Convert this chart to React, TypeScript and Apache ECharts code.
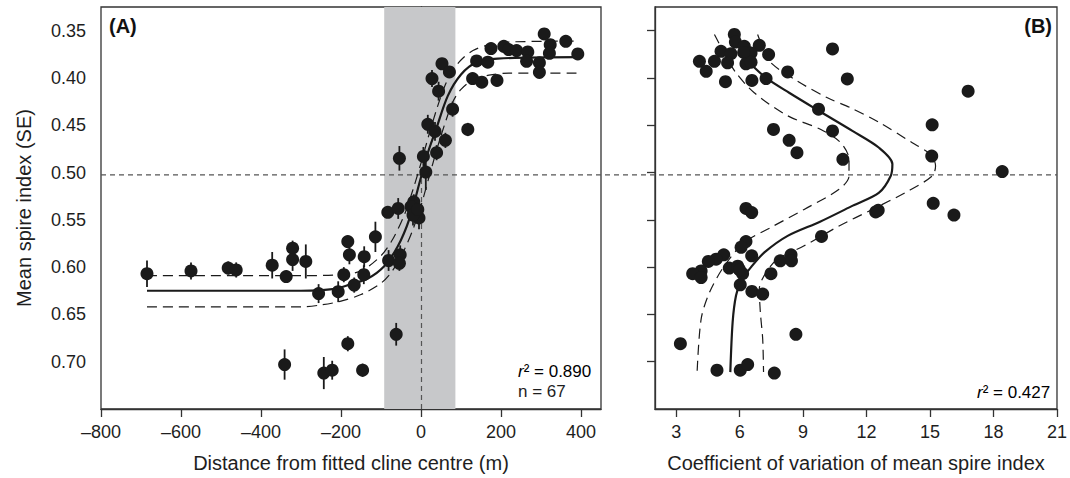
import React, { useEffect, useRef } from 'react';
import * as echarts from 'echarts';

// ---------- Panel A: mean spire index vs distance ----------
const leftX = [-685, -575, -482, -462, -372, -337, -321, -321, -288, -256, -207, -193, -341, -243, -222,
  -183, -179, -183, -114, -142, -143, -167, -81, -52, -54, -62, -146, -83, -57, -18, -15, -10, -25, -5,
  -54, 6, 12, 39, 61, 17, 35, 79, 117, 44, 27.5, 52.5, 71, 129, 152, 190, 139, 167, 175, 207, 219, 239,
  267, 264, 296, 296, 308, 323, 321, 362, 392, -20, -8];
const leftY = [0.607, 0.604, 0.601, 0.603, 0.598, 0.610, 0.580, 0.592, 0.594, 0.628, 0.626, 0.608, 0.703,
  0.712, 0.709, 0.573, 0.587, 0.681, 0.568, 0.589, 0.608, 0.619, 0.593, 0.587, 0.596, 0.671, 0.709, 0.542,
  0.538, 0.531, 0.542, 0.540, 0.536, 0.548, 0.485, 0.483, 0.4995, 0.479, 0.466, 0.449, 0.4565, 0.433,
  0.4545, 0.414, 0.4006, 0.385, 0.3936, 0.4006, 0.4045, 0.4027, 0.382, 0.3834, 0.369, 0.3666, 0.370,
  0.371, 0.3725, 0.3824, 0.384, 0.394, 0.3535, 0.3648, 0.374, 0.3613, 0.3746, 0.545, 0.539];
const leftSE = [0.014, 0.009, 0.007, 0.008, 0.014, 0.004, 0.008, 0.012, 0.018, 0.010, 0.011, 0.008, 0.016,
  0.017, 0.010, 0.006, 0.010, 0.008, 0.016, 0.011, 0.010, 0.008, 0.011, 0.010, 0.008, 0.012, 0.007, 0.006,
  0.011, 0.008, 0.012, 0.010, 0.009, 0.012, 0.013, 0.010, 0.019, 0.008, 0.008, 0.010, 0.010, 0.008, 0.007,
  0.010, 0.009, 0.005, 0.006, 0.005, 0.006, 0.004, 0.005, 0.005, 0.005, 0.005, 0.004, 0.004, 0.004, 0.005,
  0.005, 0.007, 0.004, 0.005, 0.005, 0.004, 0.004, 0.011, 0.010];

// fitted cline (solid) and its envelope (dashed)
const clineX = [-685, -300, -215, -175, -133, -92, -58, -29, 0, 18, 37.5, 67, 100, 137, 192, 392];
const clineY = [0.625, 0.625, 0.623, 0.618, 0.612, 0.599, 0.578, 0.549, 0.505, 0.478, 0.4545, 0.419, 0.3964, 0.384, 0.3795, 0.378];
const clineUpX = [-685, -300, -200, -150, -100, -70, -40, -20, 0, 20, 40, 60, 80, 100, 130, 170, 220, 392];
const clineUpY = [0.609, 0.609, 0.608, 0.604, 0.588, 0.570, 0.543, 0.518, 0.490, 0.460, 0.432, 0.408, 0.392, 0.381, 0.371, 0.365, 0.362, 0.361];
const clineLoX = [-685, -300, -250, -200, -150, -100, -70, -40, -20, 0, 20, 40, 60, 80, 100, 130, 170, 220, 392];
const clineLoY = [0.642, 0.642, 0.640, 0.636, 0.629, 0.617, 0.603, 0.580, 0.560, 0.535, 0.505, 0.475, 0.448, 0.425, 0.412, 0.402, 0.397, 0.395, 0.395];

const bandRange = [-92, 86];
const clineCentreX = 0;
const clineMidY = 0.5025;

// ---------- Panel B: mean spire index vs CV ----------
const rightX = [5.75, 5.8, 6.22, 6.93, 5.12, 5.59, 6.54, 6.19, 7.37, 4.10, 4.81, 5.43, 6.30, 6.54, 4.42, 5.33,
  6.58, 7.25, 8.27, 10.39, 11.09, 9.73, 7.60, 10.39, 8.34, 8.71, 10.88, 16.80, 15.10, 15.08, 18.41, 15.15,
  16.13, 12.43, 12.55, 6.30, 6.57, 9.87, 6.30, 6.07, 5.25, 4.89, 4.52, 4.18, 3.78, 4.18, 5.51, 5.91, 6.14,
  6.03, 6.57, 6.58, 7.09, 7.48, 7.92, 8.43, 8.45, 8.66, 3.20, 4.93, 6.03, 6.38, 7.64, 6.0];
const rightY = [0.354, 0.362, 0.3666, 0.3655, 0.3718, 0.3743, 0.3736, 0.373, 0.3753, 0.3824, 0.3824, 0.384,
  0.385, 0.3834, 0.393, 0.404, 0.4027, 0.4006, 0.3936, 0.3693, 0.401, 0.433, 0.4545, 0.456, 0.466, 0.479,
  0.486, 0.414, 0.4495, 0.4826, 0.499, 0.5325, 0.545, 0.5417, 0.540, 0.538, 0.5423, 0.5676, 0.573, 0.579,
  0.587, 0.5916, 0.594, 0.604, 0.607, 0.611, 0.601, 0.599, 0.607, 0.6187, 0.588, 0.6257, 0.6285, 0.607,
  0.5934, 0.587, 0.5934, 0.671, 0.681, 0.709, 0.709, 0.703, 0.712, 0.603];

const cvFitX = [6.2, 6.46, 7.25, 8.34, 9.76, 11.33, 12.59, 13.22, 13.14, 12.59, 11.35, 9.8, 8.27, 7.17, 6.54, 6.07, 5.83, 5.67, 5.56];
const cvFitY = [0.378, 0.384, 0.400, 0.4157, 0.435, 0.456, 0.4738, 0.491, 0.5037, 0.5212, 0.535, 0.552, 0.567, 0.5845, 0.600, 0.6145, 0.630, 0.658, 0.711];
const cvOuterX = [6.85, 7.1, 7.48, 8.74, 10.15, 11.25, 12.59, 14.16, 15.03, 15.26, 15.10, 13.85, 12.27, 10.70, 9.05, 7.79, 7.25, 6.93, 6.98, 7.09, 7.13];
const cvOuterY = [0.354, 0.368, 0.384, 0.4035, 0.421, 0.4316, 0.447, 0.4685, 0.481, 0.493, 0.5037, 0.521, 0.539, 0.5565, 0.5775, 0.5916, 0.6056, 0.623, 0.648, 0.676, 0.711];
const cvInnerX = [4.81, 5.3, 5.83, 6.69, 8.27, 9.84, 10.78, 11.17, 11.17, 10.70, 9.05, 7.48, 6.22, 5.28, 4.57, 4.18, 3.99];
const cvInnerY = [0.354, 0.375, 0.3946, 0.4157, 0.44, 0.4545, 0.4685, 0.486, 0.5037, 0.5177, 0.539, 0.558, 0.574, 0.5986, 0.627, 0.655, 0.711];

const yTicks = [0.35, 0.40, 0.45, 0.50, 0.55, 0.60, 0.65, 0.70];
const leftXTicks = [-800, -600, -400, -200, 0, 200, 400];
const rightXTicks = [3, 6, 9, 12, 15, 18, 21];

const FONT = '"Liberation Sans", Arial, sans-serif';
const INK = '#1a1a1a';
const TXT = '#1e1e1e';

const zip = (xs: number[], ys: number[]) => xs.map((x, i) => [x, ys[i]]);

export default function App() {
  const ref = useRef<HTMLDivElement>(null);
  useEffect(() => {
    if (!ref.current) return;
    const chart = echarts.init(ref.current, undefined, { renderer: 'svg' });
    const axisLine = { lineStyle: { color: '#333', width: 1.3 } };
    const axisTick = { length: 8, lineStyle: { color: '#333', width: 1.3 } };
    const yAxisBase = {
      type: 'value', inverse: true, min: 0.325, max: 0.75,
      splitLine: { show: false },
      axisLine: { show: true, ...axisLine },
    };
    const xAxisLabelFmt = (v: number) => (v < 0 ? '\u2013' + Math.abs(v) : String(v));
    const lineStyleSolid = { color: INK, width: 2.2 };
    const lineStyleDash = { color: INK, width: 1.2, type: [10, 6] };
    const curve = (xi: number, data: number[][], style: any) => ({
      type: 'line', xAxisIndex: xi, yAxisIndex: xi, data, showSymbol: false, symbol: 'none',
      smooth: 0.3, lineStyle: style, z: 3, silent: true,
    });
    const tickLabel = { fontSize: 18, color: TXT, fontFamily: FONT };
    const nameStyle = { fontSize: 20, color: TXT, fontFamily: FONT };

    const option: any = {
      animation: false,
      textStyle: { fontFamily: FONT },
      grid: [
        { left: 101, top: 7, width: 500, height: 404, show: true, borderColor: '#333', borderWidth: 1.3, backgroundColor: 'transparent' },
        { left: 655, top: 7, width: 404, height: 404, show: true, borderColor: '#333', borderWidth: 1.3, backgroundColor: 'transparent' },
      ],
      xAxis: [
        {
          type: 'value', gridIndex: 0, min: -800, max: 450,
          splitLine: { show: false },
          axisLine: { show: true, onZero: false, ...axisLine },
          axisTick: { show: true, ...axisTick, customValues: leftXTicks },
          axisLabel: { customValues: leftXTicks, formatter: xAxisLabelFmt, margin: 14, ...tickLabel },
          name: 'Distance from fitted cline centre (m)', nameLocation: 'middle', nameGap: 44,
          nameTextStyle: nameStyle,
        },
        {
          type: 'value', gridIndex: 1, min: 2, max: 21,
          splitLine: { show: false },
          axisLine: { show: true, onZero: false, ...axisLine },
          axisTick: { show: true, ...axisTick, customValues: rightXTicks },
          axisLabel: { customValues: rightXTicks, margin: 14, ...tickLabel },
          name: 'Coefficient of variation of mean spire index', nameLocation: 'middle', nameGap: 44,
          nameTextStyle: nameStyle,
        },
      ],
      yAxis: [
        {
          ...yAxisBase, gridIndex: 0,
          axisTick: { show: true, ...axisTick, customValues: yTicks },
          axisLabel: { customValues: yTicks, formatter: (v: number) => v.toFixed(2), margin: 15, ...tickLabel },
          name: 'Mean spire index (SE)', nameLocation: 'middle', nameGap: 67,
          nameTextStyle: nameStyle,
        },
        {
          ...yAxisBase, gridIndex: 1,
          axisTick: { show: true, ...axisTick, customValues: yTicks },
          axisLabel: { show: false, customValues: yTicks },
        },
      ],
      series: [
        {
          type: 'line', xAxisIndex: 0, yAxisIndex: 0, data: [], z: 0, silent: true,
          markArea: {
            silent: true,
            itemStyle: { color: '#c7c8ca' },
            data: [[{ xAxis: bandRange[0] }, { xAxis: bandRange[1] }]],
          },
          markLine: {
            silent: true, symbol: 'none', label: { show: false },
            lineStyle: { color: '#555', width: 1.2, type: [5, 4] },
            data: [[{ coord: [clineCentreX, 0.75] }, { coord: [clineCentreX, clineMidY] }]],
          },
        },
        curve(0, zip(clineX, clineY), lineStyleSolid),
        curve(0, zip(clineUpX, clineUpY), lineStyleDash),
        curve(0, zip(clineLoX, clineLoY), lineStyleDash),
        {
          type: 'custom', xAxisIndex: 0, yAxisIndex: 0, z: 4, silent: true,
          data: leftX.map((x, i) => [x, leftY[i], leftSE[i]]),
          renderItem: (params: any, api: any) => {
            const x = api.value(0), y = api.value(1), se = api.value(2);
            const a = api.coord([x, y - se]);
            const b = api.coord([x, y + se]);
            return { type: 'line', shape: { x1: a[0], y1: a[1], x2: b[0], y2: b[1] }, style: { stroke: INK, lineWidth: 1.8 } };
          },
        },
        {
          type: 'scatter', xAxisIndex: 0, yAxisIndex: 0, z: 5, symbolSize: 13, silent: true,
          itemStyle: { color: INK, opacity: 1 }, data: zip(leftX, leftY),
        },
        curve(1, zip(cvFitX, cvFitY), lineStyleSolid),
        curve(1, zip(cvOuterX, cvOuterY), lineStyleDash),
        curve(1, zip(cvInnerX, cvInnerY), lineStyleDash),
        {
          type: 'scatter', xAxisIndex: 1, yAxisIndex: 1, z: 5, symbolSize: 13, silent: true,
          itemStyle: { color: INK, opacity: 1 }, data: zip(rightX, rightY),
        },
      ],
    };
    chart.setOption(option);

    const p1 = chart.convertToPixel({ gridIndex: 0 } as any, [-800, clineMidY]) as number[];
    const p2 = chart.convertToPixel({ gridIndex: 1 } as any, [21, clineMidY]) as number[];
    const rich = { i: { fontStyle: 'italic', fontSize: 17, fontFamily: FONT, color: TXT }, n: { fontSize: 17, fontFamily: FONT, color: TXT } };
    chart.setOption({
      graphic: [
        {
          type: 'line', z: 2, silent: true,
          shape: { x1: p1[0], y1: p1[1], x2: p2[0], y2: p2[1] },
          style: { stroke: '#555', lineWidth: 1.2, lineDash: [5, 4] },
        },
        { type: 'text', left: 109, top: 16, z: 10, style: { text: '(A)', font: `bold 20px ${FONT}`, fill: '#111' } },
        { type: 'text', right: 18, top: 16, z: 10, style: { text: '(B)', font: `bold 20px ${FONT}`, fill: '#111' } },
        { type: 'text', left: 518, top: 363, z: 10, style: { text: '{i|r}{n|\u00b2 = 0.890}', rich } },
        { type: 'text', left: 518, top: 383, z: 10, style: { text: 'n = 67', font: `17px ${FONT}`, fill: TXT } },
        { type: 'text', left: 977, top: 384, z: 10, style: { text: '{i|r}{n|\u00b2 = 0.427}', rich } },
      ],
    });
    return () => chart.dispose();
  }, []);
  return <div ref={ref} style={{ position: 'fixed', left: 0, top: 0, width: 1070, height: 478, background: '#fff' }} />;
}
